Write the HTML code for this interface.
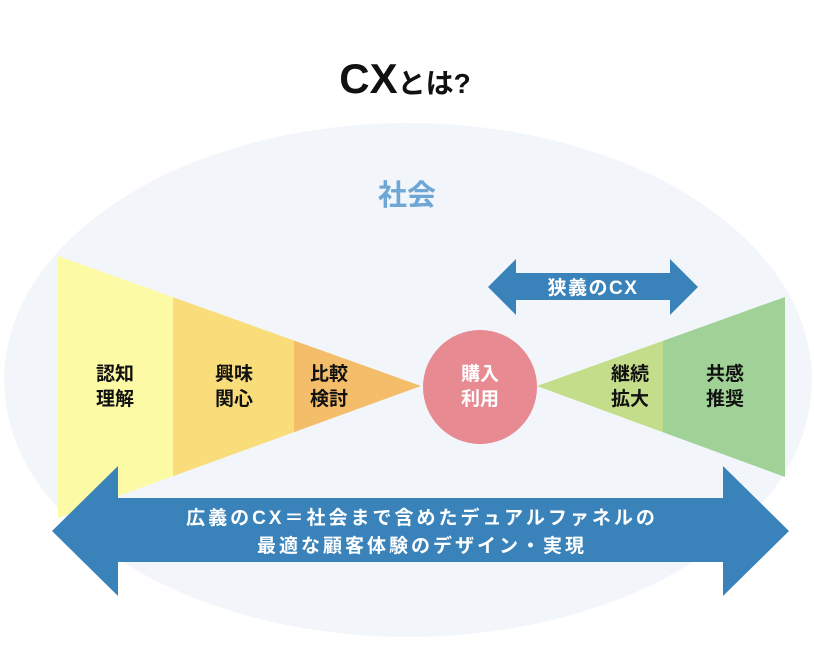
<!DOCTYPE html>
<html><head><meta charset="utf-8"><style>
html,body{margin:0;padding:0;background:#fff;}
svg text{font-family:"Liberation Sans","Noto Sans CJK JP",sans-serif;font-weight:bold;}
</style></head><body>
<svg width="814" height="650" viewBox="0 0 814 650" xmlns="http://www.w3.org/2000/svg">
<rect width="814" height="650" fill="#fff"/>
<text x="405" y="93" text-anchor="middle" font-size="42" fill="#111">CX<tspan font-size="28">とは?</tspan></text>
<ellipse cx="408" cy="380" rx="404" ry="257" fill="#f2f6fb"/>
<text x="407" y="205" text-anchor="middle" font-size="29" fill="#6ea6d6">社会</text>
<clipPath id="lf"><polygon points="58,256 421,386 58,518"/></clipPath>
<g clip-path="url(#lf)">
<rect x="58" y="200" width="115" height="350" fill="#fdfaa6"/>
<rect x="173" y="200" width="121" height="350" fill="#f9dd7b"/>
<rect x="294" y="200" width="130" height="350" fill="#f4bd6a"/>
</g>
<clipPath id="rf"><polygon points="537,386 785,297 785,477"/></clipPath>
<g clip-path="url(#rf)">
<rect x="530" y="280" width="133" height="220" fill="#c3dd8b"/>
<rect x="663" y="280" width="130" height="220" fill="#a0d196"/>
</g>
<circle cx="480" cy="387" r="57" fill="#e78a92"/>
<polygon points="488,287 516,259 516,273 670,273 670,259 698,287 670,315 670,300 516,300 516,315" fill="#3a83ba"/>
<text x="593" y="294" text-anchor="middle" font-size="19" letter-spacing="1.5" fill="#fff">狭義のCX</text>
<polygon points="52,531 118,466 118,498 723,498 723,466 789,531 723,596 723,562 118,562 118,596" fill="#3a83ba"/>
<text x="422" y="524" text-anchor="middle" font-size="19" letter-spacing="3" fill="#fff">広義のCX＝社会まで含めたデュアルファネルの</text>
<text x="422" y="552" text-anchor="middle" font-size="19" letter-spacing="3" fill="#fff">最適な顧客体験のデザイン・実現</text>
<g font-size="19" fill="#111" text-anchor="middle">
<text x="115" y="380">認知</text><text x="115" y="405">理解</text>
<text x="234" y="380">興味</text><text x="234" y="405">関心</text>
<text x="329" y="380">比較</text><text x="329" y="405">検討</text>
<text x="630" y="380">継続</text><text x="630" y="405">拡大</text>
<text x="725" y="380">共感</text><text x="725" y="405">推奨</text>
</g>
<text x="480" y="380" text-anchor="middle" font-size="19" fill="#fff">購入</text>
<text x="480" y="405" text-anchor="middle" font-size="19" fill="#fff">利用</text>
</svg>
</body></html>
